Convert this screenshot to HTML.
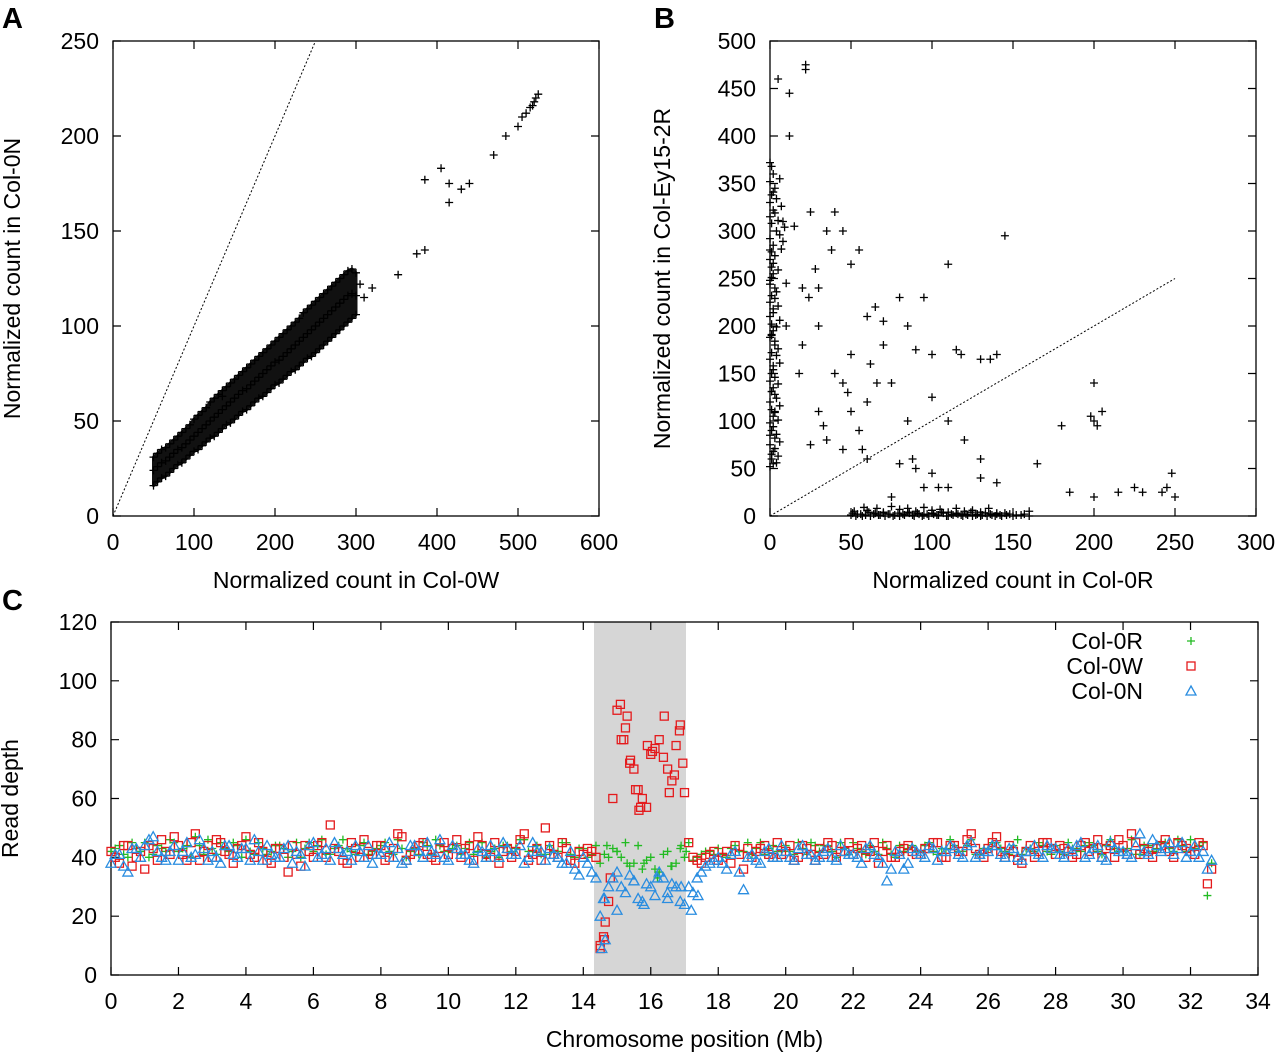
<!DOCTYPE html>
<html><head><meta charset="utf-8"><style>
html,body{margin:0;padding:0;background:#fff;}
svg text{font-family:"Liberation Sans",sans-serif;fill:#000;}
</style></head><body>
<svg id="fig" width="1280" height="1053" xmlns="http://www.w3.org/2000/svg">
<text x="2" y="28" font-size="29" font-weight="bold">A</text>
<text x="654" y="28" font-size="29" font-weight="bold">B</text>
<text x="2" y="610" font-size="29" font-weight="bold">C</text>
<rect x="594" y="622" width="92" height="353" fill="#d6d6d6"/>
<g id="gA"></g>
<g id="gB"></g>
<g id="gC"></g>
</svg>
<script>
// ---------- Panel A data ----------
const aX = [50,55,60,65,70,75,80,85,90,95,100,105,110,115,120,125,130,135,140,145,150,155,160,165,170,175,180,185,190,195,200,205,210,215,220,225,230,235,240,245,250,255,260,265,270,275,280,285,290,295,300];
const aYLow = [16,18,20,21,23,25,27,28,30,32,34,35,37,39,41,42,44,46,48,49,51,53,55,56,58,60,62,63,65,67,69,70,72,74,76,77,79,81,83,84,86,88,90,92,94,96,98,100,102,104,106];
const aYMid = [24,26,28,29,31,33,35,36,38,40,42,44,46,48,50,52,54,56,58,60,62,64,66,67,69,71,73,75,77,79,81,82,84,86,88,90,92,94,96,98,100,102,104,106,108,110,112,114,116,117,116];
const aYHigh = [31,33,35,36,38,40,42,44,46,48,51,53,55,57,60,62,64,66,68,70,72,74,76,78,80,82,84,86,88,90,92,94,96,98,100,102,104,107,109,111,113,115,117,119,121,123,125,127,129,130,128];
const aSparseX = [320,352,375,385,385,405,415,415,430,440,470,485,500,505,510,515,520,525,522,518,135,310,305];
const aSparseY = [120,127,138,140,177,183,175,165,172,175,190,200,205,210,212,215,218,222,220,216,63,115,122];
// ---------- Panel B data ----------
const bColX = [0,1,2,0,3,1,0,2,1,0,3,2,0,1,2,0,1,3,0,2,1,0,2,0,1,3,0,2,1,0,1,2,0,4,1,0,2,0,1,3,0,2,1,0,2,1,0,3,1,0];
const bColY = [52,60,68,75,82,90,98,105,112,120,128,135,142,150,158,165,172,180,188,195,202,210,218,225,232,240,248,255,262,270,278,285,292,300,308,315,322,330,338,345,352,360,368,372,55,65,85,110,190,280];
const bCol2X = [4,5,3,6,4,2,5,3,6,4,1,5,3,2,6,4,5,3,1,4,6,2,5,3,4,0,1,5,2,3,7,8,6,9,5,3,7,4,2,6];
const bCol2Y = [56,63,71,78,86,94,101,109,116,124,131,139,146,154,161,169,176,184,191,199,206,214,221,229,236,244,251,259,266,274,281,289,296,304,311,319,326,334,341,355];
const bRowX = [50,53,56,59,62,65,68,71,74,77,80,83,86,89,92,95,98,101,104,107,110,113,116,119,122,125,128,131,134,137,140,143,146,150,155,160,52,60,70,80,90,100,110,120,130,140];
const bRowY = [1,0,2,1,0,3,1,0,2,1,0,1,3,0,2,1,0,2,1,3,0,1,2,0,1,0,2,1,0,1,2,0,1,0,1,0,5,6,4,7,5,6,4,5,4,3];
const bRow2X = [51,54,57,61,64,67,70,73,76,79,82,85,88,91,94,97,100,103,106,109,112,115,118,121,124,127,130,133,136,139,142,145,148,152,157,58,66,75,85,95,105,115,125,135];
const bRow2Y = [3,2,0,4,2,1,3,2,0,3,2,4,1,3,0,2,3,1,4,0,2,3,1,2,4,1,0,3,2,0,1,3,2,1,2,9,8,10,8,9,7,8,6,8];
const bScX = [5,12,12,22,22,8,15,25,35,40,45,50,55,20,30,10,20,30,40,45,50,60,65,70,80,85,90,95,100,110,115,130,140,145,70,75,60,55,45,35,25,30,50,60,80,90,100,110,120,130,140,160,165,130,85,100,200,205,200,180,185,200,215,230,245,250,248,225,110,95,75,28,38,62,18,24,10,33,48,57,66,88,104,118,136,198,202,242];
const bScY = [460,445,400,475,470,310,305,320,300,320,300,265,280,240,240,200,180,200,150,140,170,210,220,205,230,200,175,230,170,265,175,165,170,295,180,140,120,90,70,80,75,110,110,60,55,50,45,100,80,40,35,5,55,60,100,125,100,110,140,95,25,20,25,25,30,20,45,30,30,30,20,260,280,160,150,230,245,95,130,70,140,60,30,170,165,105,95,25];
// ---------- Panel C data ----------
const cPos = [0,0.25,0.5,0.75,1,1.25,1.5,1.75,2,2.25,2.5,2.75,3,3.25,3.5,3.75,4,4.25,4.5,4.75,5,5.25,5.5,5.75,6,6.25,6.5,6.75,7,7.25,7.5,7.75,8,8.25,8.5,8.75,9,9.25,9.5,9.75,10,10.25,10.5,10.75,11,11.25,11.5,11.75,12,12.25,12.5,12.75,13,13.25,13.5,13.75,14,14.25,14.5,14.75,15,15.25,15.5,15.75,16,16.25,16.5,16.75,17,17.25,17.5,17.75,18,18.25,18.5,18.75,19,19.25,19.5,19.75,20,20.25,20.5,20.75,21,21.25,21.5,21.75,22,22.25,22.5,22.75,23,23.25,23.5,23.75,24,24.25,24.5,24.75,25,25.25,25.5,25.75,26,26.25,26.5,26.75,27,27.25,27.5,27.75,28,28.25,28.5,28.75,29,29.25,29.5,29.75,30,30.25,30.5,30.75,31,31.25,31.5,31.75,32,32.25,32.5];
const colR = [42,44,40,43,45,41,43,46,42,44,47,41,43,45,42,44,46,41,43,42,44,40,45,43,42,46,41,44,43,41,45,42,44,42,46,40,43,45,41,44,42,44,43,41,45,42,40,44,43,46,42,41,44,42,45,40,43,41,38,40,42,45,38,36,40,35,42,38,40,39,41,42,43,40,44,42,41,45,43,42,44,41,43,45,42,44,40,43,45,42,44,41,43,40,42,44,42,45,41,43,44,42,46,41,43,45,42,44,41,43,45,42,44,41,43,42,45,42,44,43,42,46,41,44,43,45,42,44,46,44,27];
const colR2 = [43,41,45,42,40,44,42,45,43,40,44,46,41,43,45,40,42,45,41,44,43,42,40,45,44,41,43,46,42,44,41,43,45,41,43,42,41,44,46,42,43,41,45,42,40,43,44,42,46,42,44,41,42,45,41,43,40,44,41,43,40,37,44,39,36,41,37,43,45,40,42,41,41,43,42,45,43,41,44,42,42,45,41,44,44,42,45,41,43,41,42,45,41,44,43,42,44,42,43,46,42,44,41,43,45,43,41,46,43,42,44,41,42,45,43,44,44,41,46,42,43,41,44,42,45,43,46,42,43,45,38];
const colW = [42,38,44,40,36,43,46,41,44,39,48,42,40,45,41,43,47,40,42,38,43,35,41,44,40,45,51,42,38,43,46,41,44,40,48,39,42,45,40,43,41,46,43,39,44,40,38,43,42,48,41,39,44,40,43,38,41,42,10,25,90,84,70,60,75,80,70,78,62,40,38,41,39,42,44,36,40,43,41,45,42,39,44,41,43,45,40,42,41,44,42,38,44,40,43,42,41,43,45,40,44,42,48,41,43,47,40,42,38,44,42,45,41,43,40,44,42,46,43,40,44,48,41,42,43,46,40,44,42,45,31];
const colW2 = [40,44,37,42,44,39,42,47,41,45,39,44,46,42,38,44,41,45,39,43,40,44,37,42,44,40,43,39,45,40,42,44,39,43,47,41,44,41,39,45,43,40,44,47,41,45,42,40,46,39,43,50,41,45,39,42,43,40,12,60,80,72,63,57,77,74,66,85,45,39,40,42,40,38,41,43,42,44,40,41,44,40,43,39,41,44,42,45,43,40,45,42,40,42,44,41,43,45,40,44,42,46,43,40,45,42,44,39,42,40,45,43,44,42,41,45,43,40,44,46,41,45,43,40,44,42,45,43,41,44,36];
const colN = [38,41,35,43,44,47,40,42,39,45,41,43,42,38,44,40,43,46,39,41,40,44,42,37,45,41,39,43,42,44,40,38,41,45,43,39,44,40,42,46,39,43,41,38,42,44,40,43,41,38,45,42,43,40,38,36,40,35,20,30,35,28,32,25,30,35,28,30,24,28,35,38,40,36,42,29,41,38,43,40,42,39,44,41,40,43,39,42,41,38,44,40,32,42,36,43,41,44,39,42,43,40,45,41,42,44,40,43,39,42,41,44,43,40,42,45,41,44,39,43,42,40,48,41,44,43,41,45,42,40,36];
const colN2 = [41,37,43,40,46,42,39,44,42,40,46,39,40,44,41,43,39,42,44,40,43,38,41,44,40,43,45,41,39,42,44,41,43,40,38,44,42,45,41,40,44,41,39,43,40,42,45,41,44,40,42,39,41,38,42,34,38,33,26,33,30,34,26,31,27,33,31,25,30,33,37,39,38,41,35,40,39,42,40,44,40,43,41,39,42,40,44,41,40,43,41,38,36,41,38,42,40,43,42,44,41,44,40,42,44,41,43,40,42,44,40,43,41,43,44,40,43,40,45,42,41,44,42,46,42,45,43,40,44,42,39];
const wExtraPos = [14.5,14.6,14.65,15.1,15.3,15.4,15.55,15.65,16.05,16.4,16.55,16.7,16.85,16.95,15.2,15.9,14.8,15.7];
const wExtraVal = [9,13,18,92,88,73,63,56,76,88,62,68,83,72,80,78,33,57];
const nExtraPos = [14.55,14.65,14.6,15.0,15.5,15.8,16.2,16.5,16.9,17.2,17.4];
const nExtraVal = [9,12,26,22,32,24,33,26,30,22,27];
const rExtraPos = [14.7,15.0,15.3,15.8,16.2,16.6,16.9,17.05];
const rExtraVal = [44,42,38,38,33,37,44,42];

const NS = "http://www.w3.org/2000/svg";
function mk(parent, tag, attrs){const e=document.createElementNS(NS,tag);for(const k in attrs)e.setAttribute(k,attrs[k]);parent.appendChild(e);return e;}

function frame(g, L,T,R,B, xmin,xmax,xticks,ymin,ymax,yticks, xlab, ylab, ylabX, xlabY){
  const sx=v=>L+(v-xmin)/(xmax-xmin)*(R-L), sy=v=>B-(v-ymin)/(ymax-ymin)*(B-T);
  const box=mk(g,'rect',{x:L,y:T,width:R-L,height:B-T,fill:'none',stroke:'#000','stroke-width':1.3});
  
  
  xticks.forEach(v=>{const x=sx(v);
    mk(g,'path',{d:`M${x} ${B}v-8M${x} ${T}v8`,stroke:'#000','stroke-width':1.2});
    const t=mk(g,'text',{x:x,y:B+34,'font-size':23,'text-anchor':'middle'});t.textContent=v;
    
    });
  yticks.forEach(v=>{const y=sy(v);
    mk(g,'path',{d:`M${L} ${y}h8M${R} ${y}h-8`,stroke:'#000','stroke-width':1.2});
    const t=mk(g,'text',{x:L-14,y:y+8,'font-size':23,'text-anchor':'end'});t.textContent=v;
    
    });
  const xt=mk(g,'text',{x:(L+R)/2,y:xlabY,'font-size':23,'text-anchor':'middle'});xt.textContent=xlab;
  
  
  const cy=(T+B)/2;
  const yt=mk(g,'text',{x:ylabX,y:cy,'font-size':23,'text-anchor':'middle',transform:`rotate(-90 ${ylabX} ${cy})`});yt.textContent=ylab;
  
  
  return {sx,sy};
}
function plus(g,x,y,c,s){const p=mk(g,'path',{d:`M${x-s} ${y}h${2*s}M${x} ${y-s}v${2*s}`,stroke:c,'stroke-width':1.3,fill:'none'});
  
  }
function square(g,x,y){const p=mk(g,'rect',{x:x-4,y:y-4,width:8,height:8,fill:'none',stroke:'#e41a1c','stroke-width':1.3});
  
  }
function tri(g,x,y){const p=mk(g,'path',{d:`M${x} ${y-5}L${x+5} ${y+4}L${x-5} ${y+4}Z`,fill:'none',stroke:'#2a8de0','stroke-width':1.3});
  
  }

// Panel A
const gA=document.getElementById('gA');
const A=frame(gA,113,41,599,516,0,600,[0,100,200,300,400,500,600],0,250,[0,50,100,150,200,250],'Normalized count in Col-0W','Normalized count in Col-0N',20,588);
const dA=mk(gA,'line',{x1:A.sx(0),y1:A.sy(0),x2:A.sx(250),y2:A.sy(250),stroke:'#000','stroke-dasharray':'2,2','stroke-width':1});


let pts=aX.map((x,i)=>A.sx(x)+','+A.sy(aYHigh[i])).concat(aX.slice().reverse().map((x,j)=>{const i=aX.length-1-j;return A.sx(x)+','+A.sy(aYLow[i]);}));
const cloud=mk(gA,'polygon',{points:pts.join(' '),fill:'#111',stroke:'#111','stroke-width':3,'stroke-linejoin':'round'});


[aYLow,aYMid,aYHigh].forEach(arr=>arr.forEach((v,i)=>{plus(gA,A.sx(aX[i]),A.sy(v),'#000',4);}));
aSparseX.forEach((v,i)=>plus(gA,A.sx(v),A.sy(aSparseY[i]),'#000',4));

// Panel B
const gB=document.getElementById('gB');
const Bp=frame(gB,770,41,1256,516,0,300,[0,50,100,150,200,250,300],0,500,[0,50,100,150,200,250,300,350,400,450,500],'Normalized count in Col-0R','Normalized count in Col-Ey15-2R',670,588);
const dB=mk(gB,'line',{x1:Bp.sx(0),y1:Bp.sy(0),x2:Bp.sx(250),y2:Bp.sy(250),stroke:'#000','stroke-dasharray':'2,2','stroke-width':1});


bColX.forEach((v,i)=>plus(gB,Bp.sx(v),Bp.sy(bColY[i]),'#000',4));
bCol2X.forEach((v,i)=>plus(gB,Bp.sx(v),Bp.sy(bCol2Y[i]),'#000',4));
bRowX.forEach((v,i)=>plus(gB,Bp.sx(v),Bp.sy(bRowY[i]),'#000',4));
bRow2X.forEach((v,i)=>plus(gB,Bp.sx(v),Bp.sy(bRow2Y[i]),'#000',4));
bScX.forEach((v,i)=>plus(gB,Bp.sx(v),Bp.sy(bScY[i]),'#000',4));

// Panel C
const gC=document.getElementById('gC');
const C=frame(gC,111,622,1258,975,0,34,[0,2,4,6,8,10,12,14,16,18,20,22,24,26,28,30,32,34],0,120,[0,20,40,60,80,100,120],'Chromosome position (Mb)','Read depth',18,1047);
const cPos2 = cPos.map(p=>p+0.125);
colR.forEach((v,i)=>plus(gC,C.sx(cPos[i]),C.sy(v),'#22bb22',4));
colR2.forEach((v,i)=>plus(gC,C.sx(cPos2[i]),C.sy(v),'#22bb22',4));
rExtraPos.forEach((p,i)=>plus(gC,C.sx(p),C.sy(rExtraVal[i]),'#22bb22',4));
colW.forEach((v,i)=>square(gC,C.sx(cPos[i]),C.sy(v)));
colW2.forEach((v,i)=>square(gC,C.sx(cPos2[i]),C.sy(v)));
wExtraPos.forEach((p,i)=>square(gC,C.sx(p),C.sy(wExtraVal[i])));
colN.forEach((v,i)=>tri(gC,C.sx(cPos[i]),C.sy(v)));
colN2.forEach((v,i)=>tri(gC,C.sx(cPos2[i]),C.sy(v)));
nExtraPos.forEach((p,i)=>tri(gC,C.sx(p),C.sy(nExtraVal[i])));
// legend
const legNames=['Col-0R','Col-0W','Col-0N'];
legNames.forEach((n,i)=>{const y=641+i*25;
  const t=mk(gC,'text',{x:1143,y:y+8,'font-size':23,'text-anchor':'end'});t.textContent=n;
  
  
  if(i===0)plus(gC,1191,y,'#22bb22',4);else if(i===1)square(gC,1191,y);else tri(gC,1191,y);});
</script>
</body></html>
